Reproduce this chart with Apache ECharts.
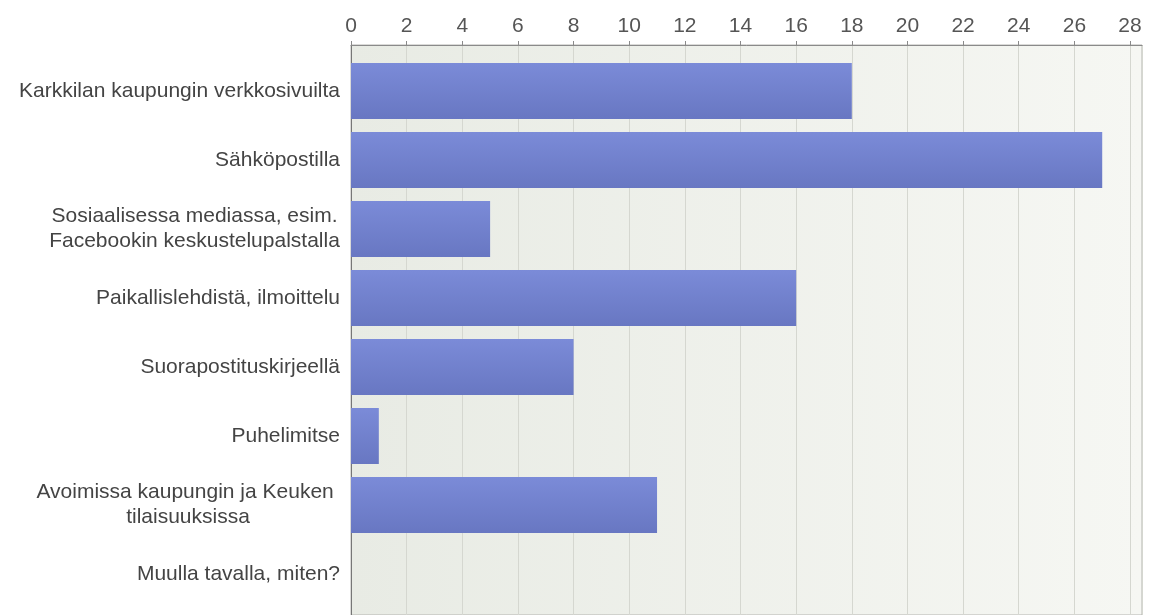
<!DOCTYPE html>
<html>
<head>
<meta charset="utf-8">
<script src="https://cdn.jsdelivr.net/npm/echarts@6/dist/echarts.min.js"></script>
<style>
html,body{margin:0;padding:0;background:#fff;}
#chart{width:1159px;height:615px;}
</style>
</head>
<body>
<div id="chart"></div>
<script>
const categories = [
  'Karkkilan kaupungin verkkosivuilta',
  'Sähköpostilla',
  'Sosiaalisessa mediassa, esim.\nFacebookin keskustelupalstalla',
  'Paikallislehdistä, ilmoittelu',
  'Suorapostituskirjeellä',
  'Puhelimitse',
  'Avoimissa kaupungin ja Keuken \ntilaisuuksissa',
  'Muulla tavalla, miten?'
];
const values = [18, 27, 5, 16, 8, 1, 11, 0];
const axisMax = 28.43;
const tickStep = 2;

const FONT = 'Liberation Sans, Arial, sans-serif';
const FS = 21;
const ctx = document.createElement('canvas').getContext('2d');
ctx.font = FS + 'px ' + FONT;

function blockWidth(lines) {
  return Math.ceil(Math.max.apply(null, lines.map(l => ctx.measureText(l).width)));
}
function labelFmt(v) {
  const lines = String(v).split('\n');
  if (lines.length === 1) return v;
  const w = blockWidth(lines);
  return lines.map(l => '{c' + w + '|' + l + '}').join('\n');
}
const rich = {};
categories.forEach(c => {
  const lines = c.split('\n');
  if (lines.length > 1) {
    const w = blockWidth(lines);
    rich['c' + w] = {width: w, align: 'center', fontSize: FS, fontFamily: FONT, color: '#444', lineHeight: 25};
  }
});

const chart = echarts.init(document.getElementById('chart'), null, {renderer: 'canvas'});
chart.setOption({
  animation: false,
  grid: [
    {
      left: 351, right: 17, top: 45, bottom: -20,
      show: true,
      backgroundColor: new echarts.graphic.LinearGradient(0, 0, 1, 0, [
        {offset: 0, color: '#e8ebe4'},
        {offset: 1, color: '#f6f7f3'}
      ]),
      borderColor: '#b4b4b0', borderWidth: 1
    },
    {left: 351, right: 17, top: 56.5, height: 552}
  ],
  xAxis: [
    {
      gridIndex: 0, type: 'value', position: 'top',
      min: 0, max: axisMax, interval: tickStep,
      axisLine: {show: true, onZero: false, lineStyle: {color: '#8a8a8a', width: 1}},
      axisTick: {show: true, inside: false, length: 4, lineStyle: {color: '#8a8a8a'}},
      axisLabel: {
        show: true, margin: 8, fontSize: FS, fontFamily: FONT, color: '#555',
        showMaxLabel: false,
        formatter: v => (Math.abs(v % tickStep) < 1e-9 ? String(v) : '')
      },
      splitLine: {show: true, lineStyle: {color: '#d5d7d0', width: 1}}
    },
    {
      gridIndex: 1, type: 'value', min: 0, max: axisMax, show: false,
      position: 'top',
      axisLine: {show: false, lineStyle: {color: 'rgba(0,0,0,0)'}},
      axisTick: {show: false, lineStyle: {color: 'rgba(0,0,0,0)'}},
      axisLabel: {show: false}, splitLine: {show: false}
    }
  ],
  yAxis: [
    {
      gridIndex: 0, type: 'value',
      axisLine: {show: true, onZero: false, lineStyle: {color: '#777', width: 1}},
      axisTick: {show: false}, axisLabel: {show: false}, splitLine: {show: false}
    },
    {
      gridIndex: 1, type: 'category', inverse: true, data: categories,
      axisLine: {show: false}, axisTick: {show: false},
      splitLine: {show: false},
      axisLabel: {
        margin: 11, fontSize: FS, fontFamily: FONT, color: '#444',
        lineHeight: 25, align: 'right',
        formatter: labelFmt, rich: rich
      }
    }
  ],
  series: [{
    type: 'bar', xAxisIndex: 1, yAxisIndex: 1,
    data: values, barWidth: 56,
    itemStyle: {
      color: new echarts.graphic.LinearGradient(0, 0, 0, 1, [
        {offset: 0, color: '#7b8bd8'},
        {offset: 1, color: '#6877c2'}
      ])
    }
  }]
});
</script>
</body>
</html>
